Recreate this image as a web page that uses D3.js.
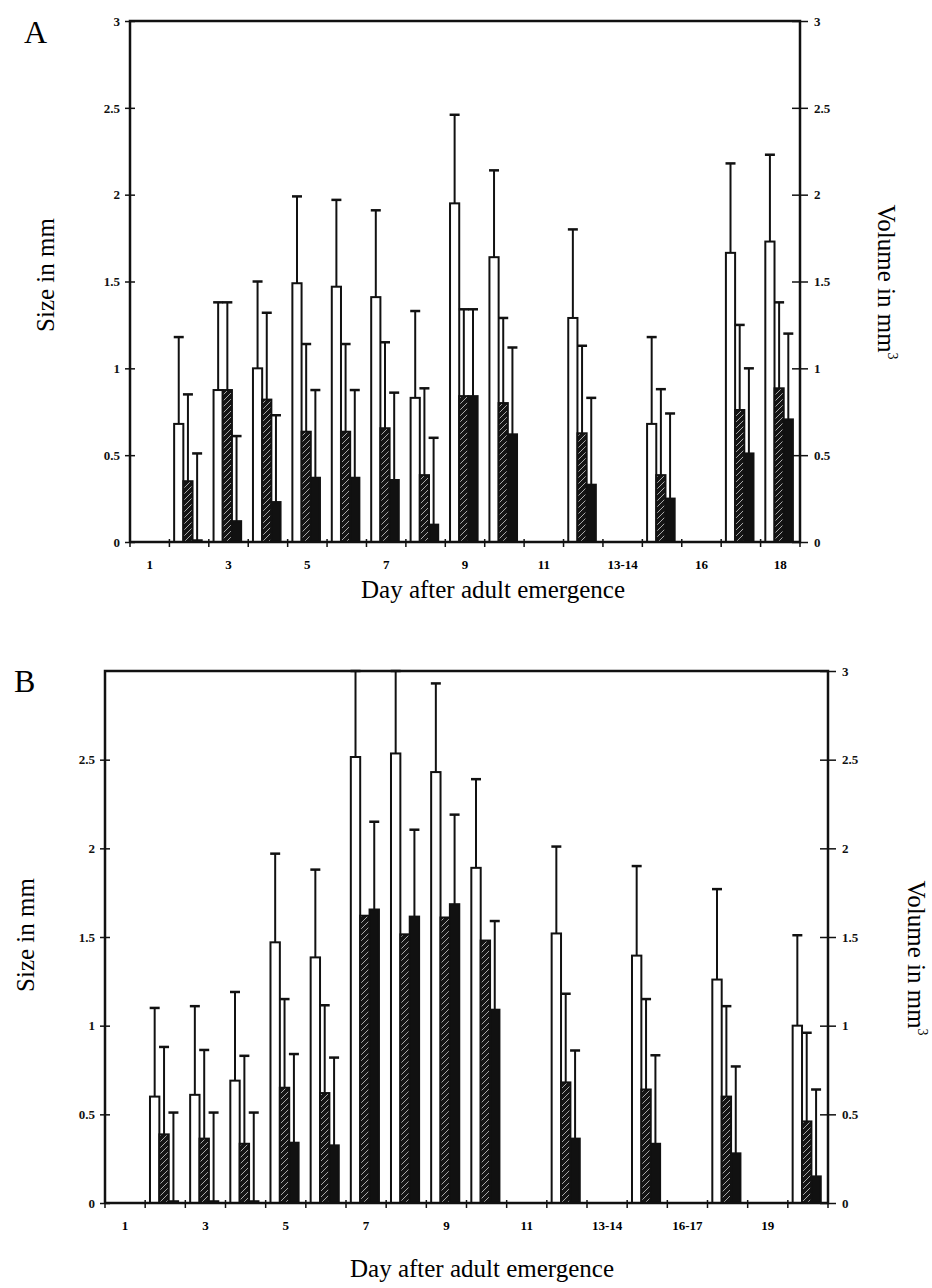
<!DOCTYPE html>
<meta charset="utf-8">
<style>
  body { margin: 0; background: #fff; }
  .tick-label { font-family: "Liberation Serif", serif; font-weight: bold; font-size: 13px; }
  .title { font-family: "Liberation Serif", serif; font-size: 25px; }
  .letter { font-family: "Liberation Serif", serif; font-size: 32px; }
</style>
<body>
<script src="https://cdn.jsdelivr.net/npm/d3@7"></script>
<script>
// ---- data ----
var daysA = ["1","2","3","4","5","6","7","8","9","10","11","12","13-14","15","16","17","18"];
var daysB = ["1","2","3","4","5","6","7","8","9","10","11","12","13-14","15","16-17","18","19","20"];
var series = ["white", "hatched", "black"];
var yTicks = [0, 0.5, 1, 1.5, 2, 2.5, 3];
var yTicksB = [0, 0.5, 1, 1.5, 2, 2.5];

// panel A: bar value and top of error bar
var whiteA   = [null,0.68,0.875,1.0,1.49,1.47,1.41,0.83,1.95,1.64,null,1.29,null,0.68,null,1.665,1.73];
var whiteHiA = [null,1.18,1.38,1.50,1.99,1.97,1.91,1.33,2.46,2.14,null,1.80,null,1.18,null,2.18,2.23];
var hatchA   = [null,0.35,0.875,0.82,0.635,0.635,0.655,0.385,0.84,0.80,null,0.626,null,0.385,null,0.76,0.885];
var hatchHiA = [null,0.85,1.38,1.32,1.14,1.14,1.15,0.885,1.34,1.29,null,1.13,null,0.88,null,1.25,1.38];
var blackA   = [null,0.01,0.12,0.23,0.37,0.37,0.357,0.10,0.84,0.62,null,0.33,null,0.25,null,0.51,0.706];
var blackHiA = [null,0.51,0.61,0.73,0.875,0.875,0.86,0.60,1.34,1.12,null,0.83,null,0.74,null,1.00,1.20];

// panel B
var whiteB   = [null,0.60,0.61,0.69,1.47,1.385,2.515,2.535,2.43,1.89,null,1.52,null,1.395,null,1.26,null,1.00];
var whiteHiB = [null,1.10,1.11,1.19,1.97,1.88,3.0,3.0,2.93,2.39,null,2.01,null,1.90,null,1.77,null,1.51];
var hatchB   = [null,0.387,0.363,0.334,0.65,0.62,1.62,1.515,1.61,1.48,null,0.68,null,0.64,null,0.60,null,0.46];
var hatchHiB = [null,0.88,0.863,0.83,1.15,1.115,null,null,null,null,null,1.18,null,1.15,null,1.11,null,0.96];
var blackB   = [null,0.01,0.01,0.01,0.34,0.325,1.655,1.615,1.685,1.09,null,0.363,null,0.334,null,0.28,null,0.15];
var blackHiB = [null,0.51,0.51,0.51,0.84,0.82,2.15,2.105,2.19,1.59,null,0.86,null,0.833,null,0.77,null,0.64];

var svg = d3.select("body").append("svg")
    .attr("width", 932)
    .attr("height", 1288);

var defs = svg.append("defs");
var pat = defs.append("pattern")
    .attr("id", "hatch")
    .attr("patternUnits", "userSpaceOnUse")
    .attr("width", 6).attr("height", 6);
pat.append("rect").attr("width", 6).attr("height", 6).attr("fill", "#151515");
pat.append("path")
    .attr("d", "M-1,1 l2,-2 M0,6 l6,-6 M5,7 l2,-2")
    .attr("stroke", "#cfcfcf")
    .attr("stroke-width", 0.8);

function drawPanel(p) {
  var g = svg.append("g");

  var x0 = d3.scaleBand().domain(p.cats).range([p.left, p.right]);
  var bw = x0.bandwidth();
  var x1 = d3.scaleBand().domain(series).range([bw * 0.12, bw * 0.82]);
  var yL = d3.scaleLinear().domain([0, 3]).range([p.bottom, p.top]);
  var yR = d3.scaleLinear().domain([0, 3]).range([p.bottom, p.top]);

  var rows = p.cats.map(function(c, i) {
    return [
      {s: "white", cat: c, v: p.white[i], hi: p.whiteHi[i], y: yL},
      {s: "hatched", cat: c, v: p.hatch[i], hi: p.hatchHi[i], y: yR},
      {s: "black", cat: c, v: p.black[i], hi: p.blackHi[i], y: yR}
    ];
  });
  var bars = d3.merge(rows).filter(function(d) { return d.v != null; });

  var fills = {white: "#fff", hatched: "url(#hatch)", black: "#111"};

  var bg = g.selectAll(".bar").data(bars).enter().append("g").attr("class", "bar");
  bg.append("rect")
      .attr("x", function(d) { return x0(d.cat) + x1(d.s); })
      .attr("width", x1.bandwidth())
      .attr("y", function(d) { return d.y(d.v); })
      .attr("height", function(d) { return d.y(0) - d.y(d.v); })
      .attr("fill", function(d) { return fills[d.s]; })
      .attr("stroke", "#111")
      .attr("stroke-width", 2);

  var eb = bg.filter(function(d) { return d.hi != null; });
  eb.append("line")
      .attr("x1", function(d) { return x0(d.cat) + x1(d.s) + x1.bandwidth() / 2; })
      .attr("x2", function(d) { return x0(d.cat) + x1(d.s) + x1.bandwidth() / 2; })
      .attr("y1", function(d) { return d.y(d.v); })
      .attr("y2", function(d) { return d.y(d.hi); })
      .attr("stroke", "#111").attr("stroke-width", 2);
  eb.append("line")
      .attr("x1", function(d) { return x0(d.cat) + x1(d.s) + x1.bandwidth() / 2 - 5; })
      .attr("x2", function(d) { return x0(d.cat) + x1(d.s) + x1.bandwidth() / 2 + 5; })
      .attr("y1", function(d) { return d.y(d.hi); })
      .attr("y2", function(d) { return d.y(d.hi); })
      .attr("stroke", "#111").attr("stroke-width", 2.5);

  // frame: left axis, top line, right axis, x axis
  g.append("path")
      .attr("d", "M" + p.left + "," + p.bottom + "V" + p.top + "H" + p.right + "V" + p.bottom + "H" + p.left)
      .attr("fill", "none").attr("stroke", "#111").attr("stroke-width", 2.5);

  // left axis
  var la = g.append("g").attr("transform", "translate(" + p.left + ",0)")
      .call(d3.axisLeft(yL).tickValues(p.leftTicks).tickSize(5).tickFormat(d3.format("")));
  la.select(".domain").remove();
  la.selectAll(".tick line").attr("x2", 5).attr("x1", -5).attr("stroke", "#111").attr("stroke-width", 1.5);
  la.selectAll(".tick text").attr("class", "tick-label").attr("x", -10).attr("fill", "#111");

  // right axis
  var ra = g.append("g").attr("transform", "translate(" + p.right + ",0)")
      .call(d3.axisRight(yR).tickValues(yTicks).tickSize(8).tickFormat(d3.format("")));
  ra.select(".domain").remove();
  ra.selectAll(".tick line").attr("x1", -8).attr("x2", 8).attr("stroke", "#111").attr("stroke-width", 1.5);
  ra.selectAll(".tick text").attr("class", "tick-label").attr("x", 14).attr("fill", "#111");

  // x axis: ticks at category boundaries, labels on every other category
  var bounds = p.cats.map(function(c) { return x0(c); }).concat([p.right]);
  g.selectAll(".xtick").data(bounds).enter().append("line")
      .attr("x1", function(d) { return d; }).attr("x2", function(d) { return d; })
      .attr("y1", p.bottom - 3).attr("y2", p.bottom + 5)
      .attr("stroke", "#111").attr("stroke-width", 1.5);
  g.selectAll(".xlabel").data(p.cats.filter(function(c, i) { return i % 2 === 0; }))
    .enter().append("text")
      .attr("class", "tick-label")
      .attr("x", function(d) { return x0(d) + bw / 2; })
      .attr("y", p.bottom + 27)
      .attr("text-anchor", "middle")
      .text(function(d) { return d; });

  // titles
  g.append("text").attr("class", "title")
      .attr("x", p.xTitleX).attr("y", p.xTitleY)
      .attr("text-anchor", "middle")
      .text("Day after adult emergence");
  g.append("text").attr("class", "title")
      .attr("transform", "translate(" + p.lTitleX + "," + p.lTitleY + ") rotate(-90)")
      .attr("text-anchor", "middle")
      .text("Size in mm");
  var rt = g.append("text").attr("class", "title")
      .attr("transform", "translate(" + p.rTitleX + "," + p.rTitleY + ") rotate(90)")
      .attr("text-anchor", "middle");
  rt.append("tspan").text("Volume in mm");
  rt.append("tspan").attr("dy", -10).attr("font-size", 14).text("3");

  g.append("text").attr("class", "letter")
      .attr("x", p.letterX).attr("y", p.letterY)
      .text(p.letter);
}

drawPanel({
  cats: daysA, white: whiteA, whiteHi: whiteHiA, hatch: hatchA, hatchHi: hatchHiA,
  black: blackA, blackHi: blackHiA, leftTicks: yTicks,
  left: 130, right: 800, top: 21, bottom: 542,
  xTitleX: 493, xTitleY: 598, lTitleX: 54, lTitleY: 275, rTitleX: 878, rTitleY: 282,
  letter: "A", letterX: 24, letterY: 43
});

drawPanel({
  cats: daysB, white: whiteB, whiteHi: whiteHiB, hatch: hatchB, hatchHi: hatchHiB,
  black: blackB, blackHi: blackHiB, leftTicks: yTicksB,
  left: 105, right: 828, top: 671, bottom: 1203,
  xTitleX: 482, xTitleY: 1277, lTitleX: 34, lTitleY: 935, rTitleX: 908, rTitleY: 958,
  letter: "B", letterX: 14, letterY: 692
});
</script>
